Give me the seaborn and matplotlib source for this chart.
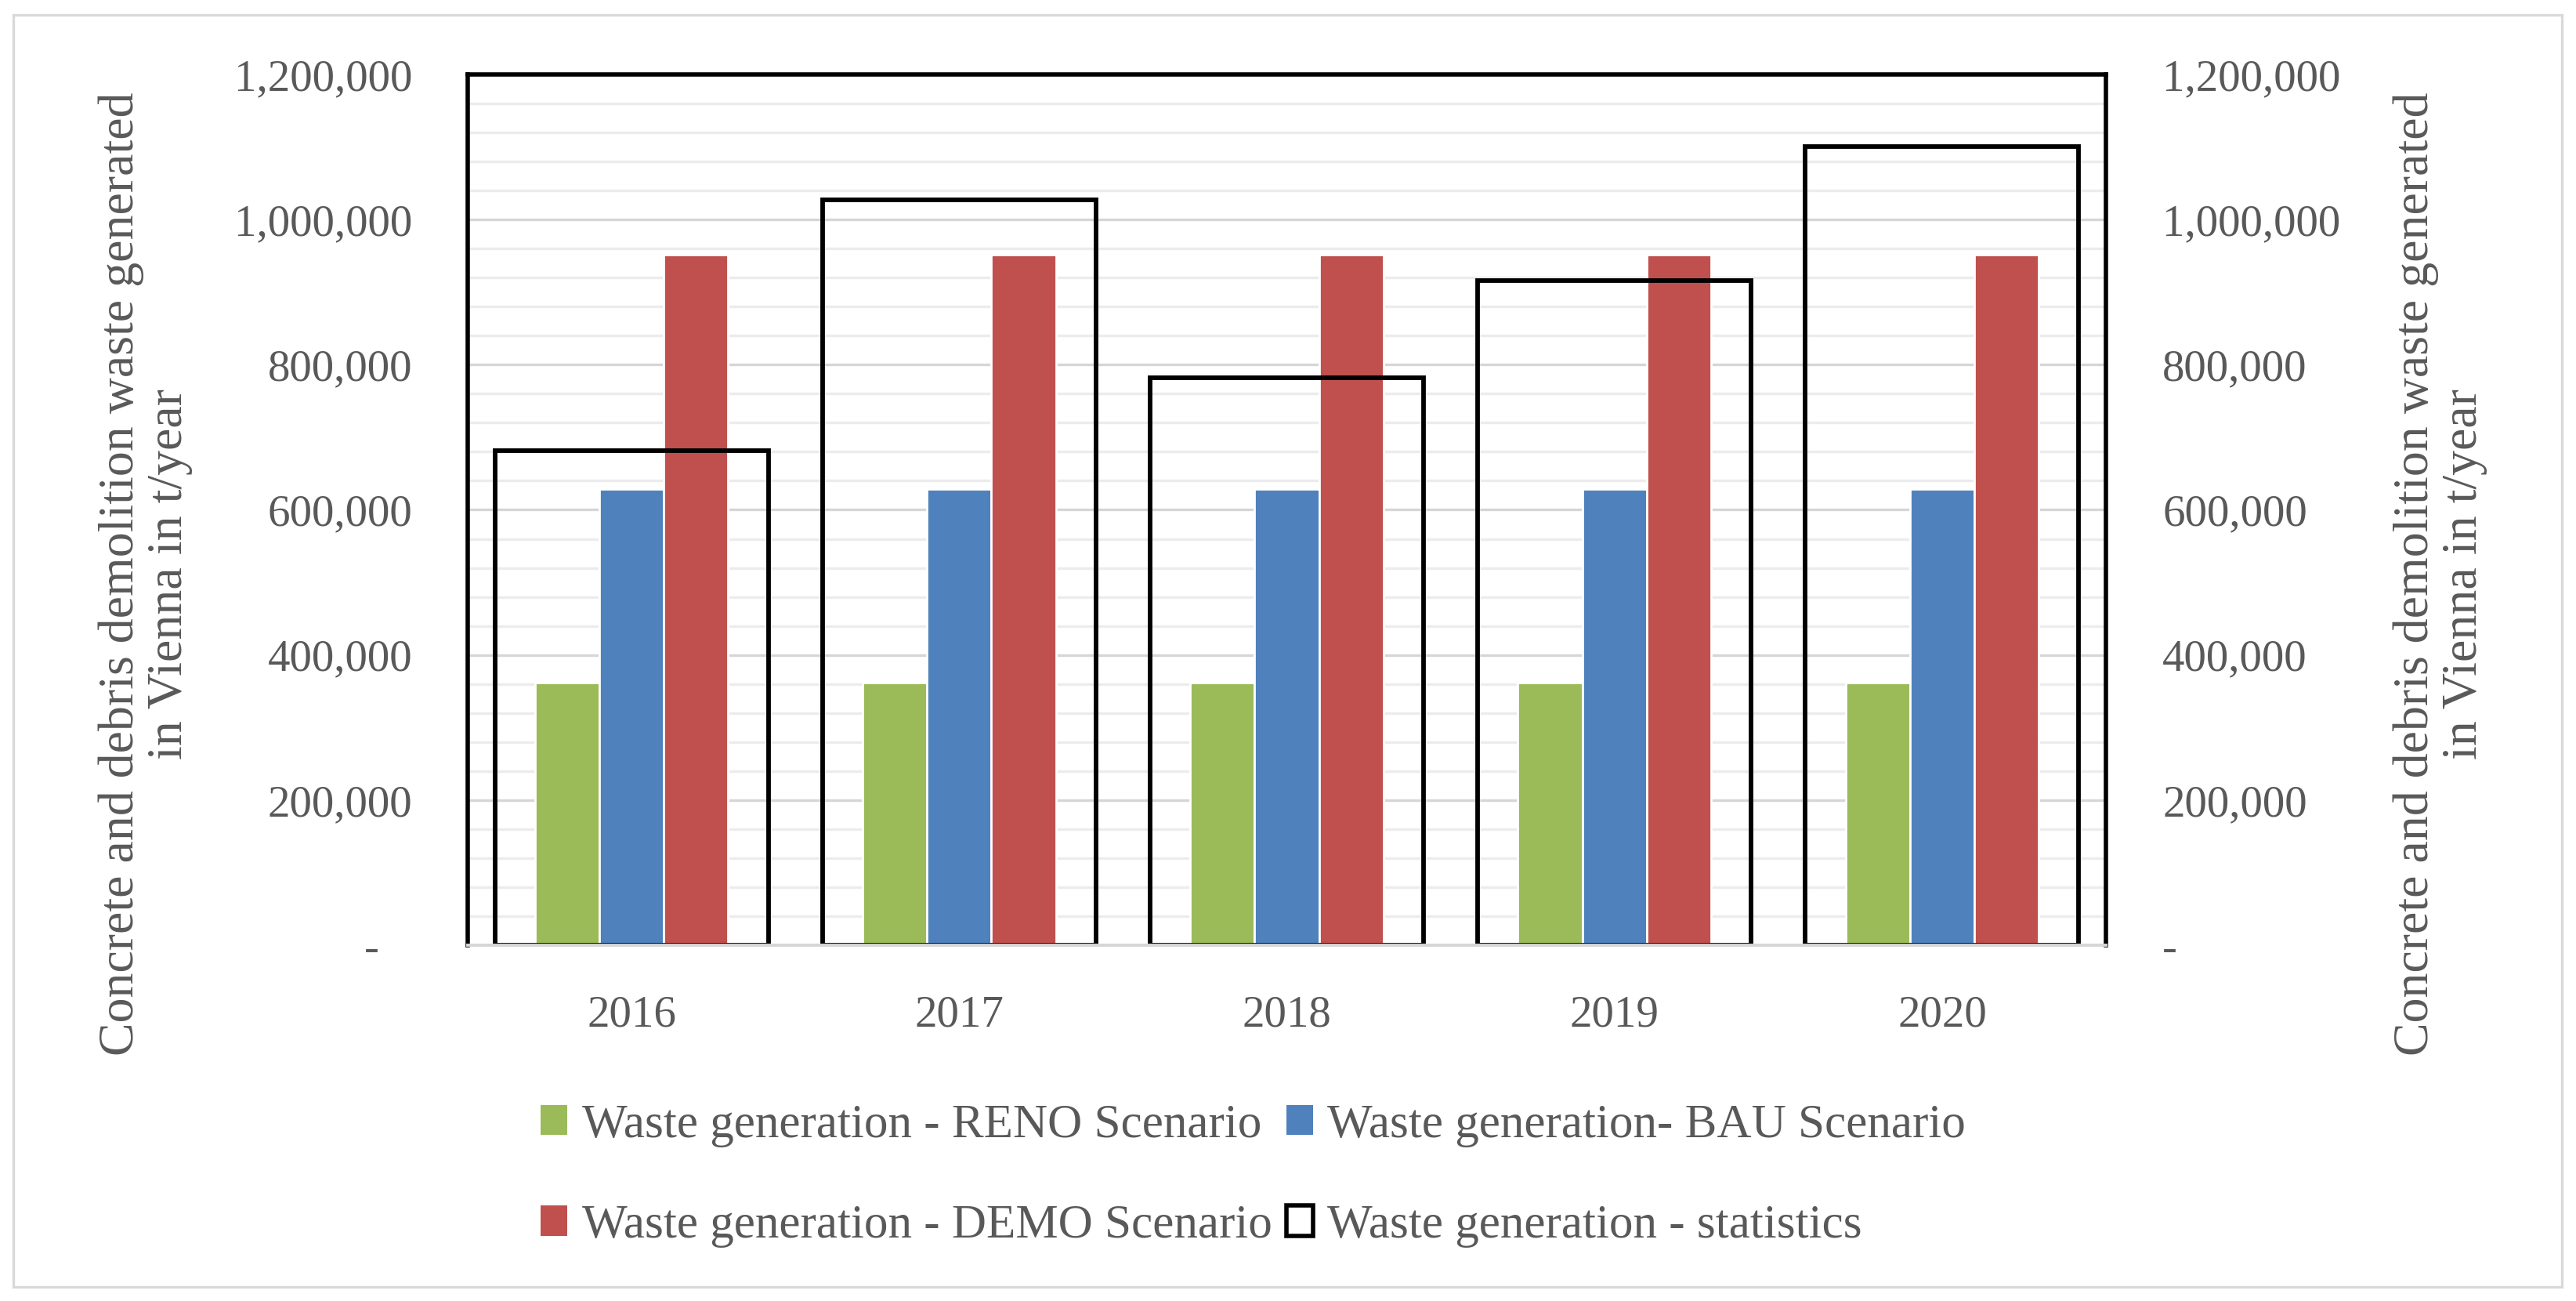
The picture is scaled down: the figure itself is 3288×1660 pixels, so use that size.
import pandas as pd
import matplotlib.pyplot as plt
import matplotlib.ticker as mticker
from matplotlib.patches import Rectangle, Patch
import seaborn as sns

# values (t/year)
years = ["2016", "2017", "2018", "2019", "2020"]
reno = [362000, 362000, 362000, 362000, 362000]
bau = [629000, 629000, 629000, 629000, 629000]
demo = [952000, 952000, 952000, 952000, 952000]
statistics = [682000, 1027000, 782000, 916000, 1101000]

scenario_names = ["Waste generation - RENO Scenario",
                  "Waste generation- BAU Scenario",
                  "Waste generation - DEMO Scenario"]
stats_name = "Waste generation - statistics"
ylabel = "Concrete and debris demolition waste generated\nin Vienna in t/year"

colors = ["#9BBB59", "#4F81BD", "#C0504D"]
text_col = "#595959"

# long-form table for seaborn
df = pd.DataFrame({
    "year": years * 3,
    "scenario": [scenario_names[0]] * 5 + [scenario_names[1]] * 5 + [scenario_names[2]] * 5,
    "value": reno + bau + demo,
})

sns.set_style("white")
plt.rcParams["font.family"] = ["Liberation Serif", "DejaVu Serif"]

W, H = 3288, 1660
fig = plt.figure(figsize=(W / 200, H / 200), dpi=200)
left, right, top, bottom = 597, 2688, 95, 1206
ax = fig.add_axes([left / W, 1 - bottom / H, (right - left) / W, (bottom - top) / H])

sns.barplot(data=df, x="year", y="value", hue="scenario", palette=colors,
            width=0.59, errorbar=None, saturation=1, ax=ax, legend=False)

ax2 = ax.twinx()
sns.barplot(x=years, y=statistics, ax=ax2, fill=False, color="black",
            width=0.835, errorbar=None, saturation=1, linewidth=2.1)
for p in ax2.patches:
    p.set_facecolor("none")
    p.set_edgecolor("black")
    p.set_linewidth(2.1)

for a in (ax, ax2):
    a.set_ylim(0, 1200000)
    a.set_xlim(-0.5, 4.5)
    a.yaxis.set_major_locator(mticker.MultipleLocator(200000))
    a.set_xlabel("")
    a.set_ylabel("")

ax.yaxis.set_minor_locator(mticker.MultipleLocator(40000))
ax.set_axisbelow(True)
ax.grid(which="minor", axis="y", color="#ececec", linewidth=1.2)
ax.grid(which="major", axis="y", color="#d6d6d6", linewidth=1.2)
ax.grid(False, axis="x")

ax.yaxis.set_major_formatter(mticker.FuncFormatter(lambda v, p: "-   " if v == 0 else f"{v:,.0f}"))
ax2.yaxis.set_major_formatter(mticker.FuncFormatter(lambda v, p: "-" if v == 0 else f"{v:,.0f}"))

ax.tick_params(axis="y", which="both", length=0, pad=25.5, labelsize=20.5, labelcolor=text_col)
ax.tick_params(axis="x", length=0, pad=23, labelsize=20.5, labelcolor=text_col)
ax2.tick_params(axis="y", which="both", length=0, pad=26, labelsize=20.5, labelcolor=text_col)

for s in ax.spines.values():
    s.set_visible(False)
for name in ("top", "left", "right"):
    ax2.spines[name].set_color("black")
    ax2.spines[name].set_linewidth(2.0)
ax2.spines["bottom"].set_color("#d6d6d6")
ax2.spines["bottom"].set_linewidth(1.4)

# axis titles on both sides
fig.text(186 / W, 1 - 732 / H, ylabel, rotation=90, ha="center", va="center",
         fontsize=23, color=text_col, linespacing=1.1)
fig.text(3115 / W, 1 - 732 / H, ylabel, rotation=90, ha="center", va="center",
         fontsize=23, color=text_col, linespacing=1.1)

# legend, column-wise order
handles = [Patch(facecolor=colors[0], edgecolor="none"),
           Patch(facecolor=colors[2], edgecolor="none"),
           Patch(facecolor=colors[1], edgecolor="none"),
           Patch(facecolor="white", edgecolor="black", linewidth=2.0)]
labels = [scenario_names[0], scenario_names[2], scenario_names[1], stats_name]
fig.legend(handles, labels, ncol=2, loc="upper left",
           bbox_to_anchor=(690 / W, 1 - 1408 / H), frameon=False,
           fontsize=22, labelcolor=text_col, handlelength=0.56, handleheight=0.6,
           handletextpad=0.3, columnspacing=0.3, labelspacing=1.2, borderpad=0,
           borderaxespad=0)

# outer chart frame
fig.patches.append(Rectangle((17 / W, 1 - 1642 / H), (3270 - 17) / W, (1642 - 19) / H,
                             transform=fig.transFigure, fill=False,
                             edgecolor="#d9d9d9", linewidth=1.2))

fig.savefig("out.png", dpi=200)
